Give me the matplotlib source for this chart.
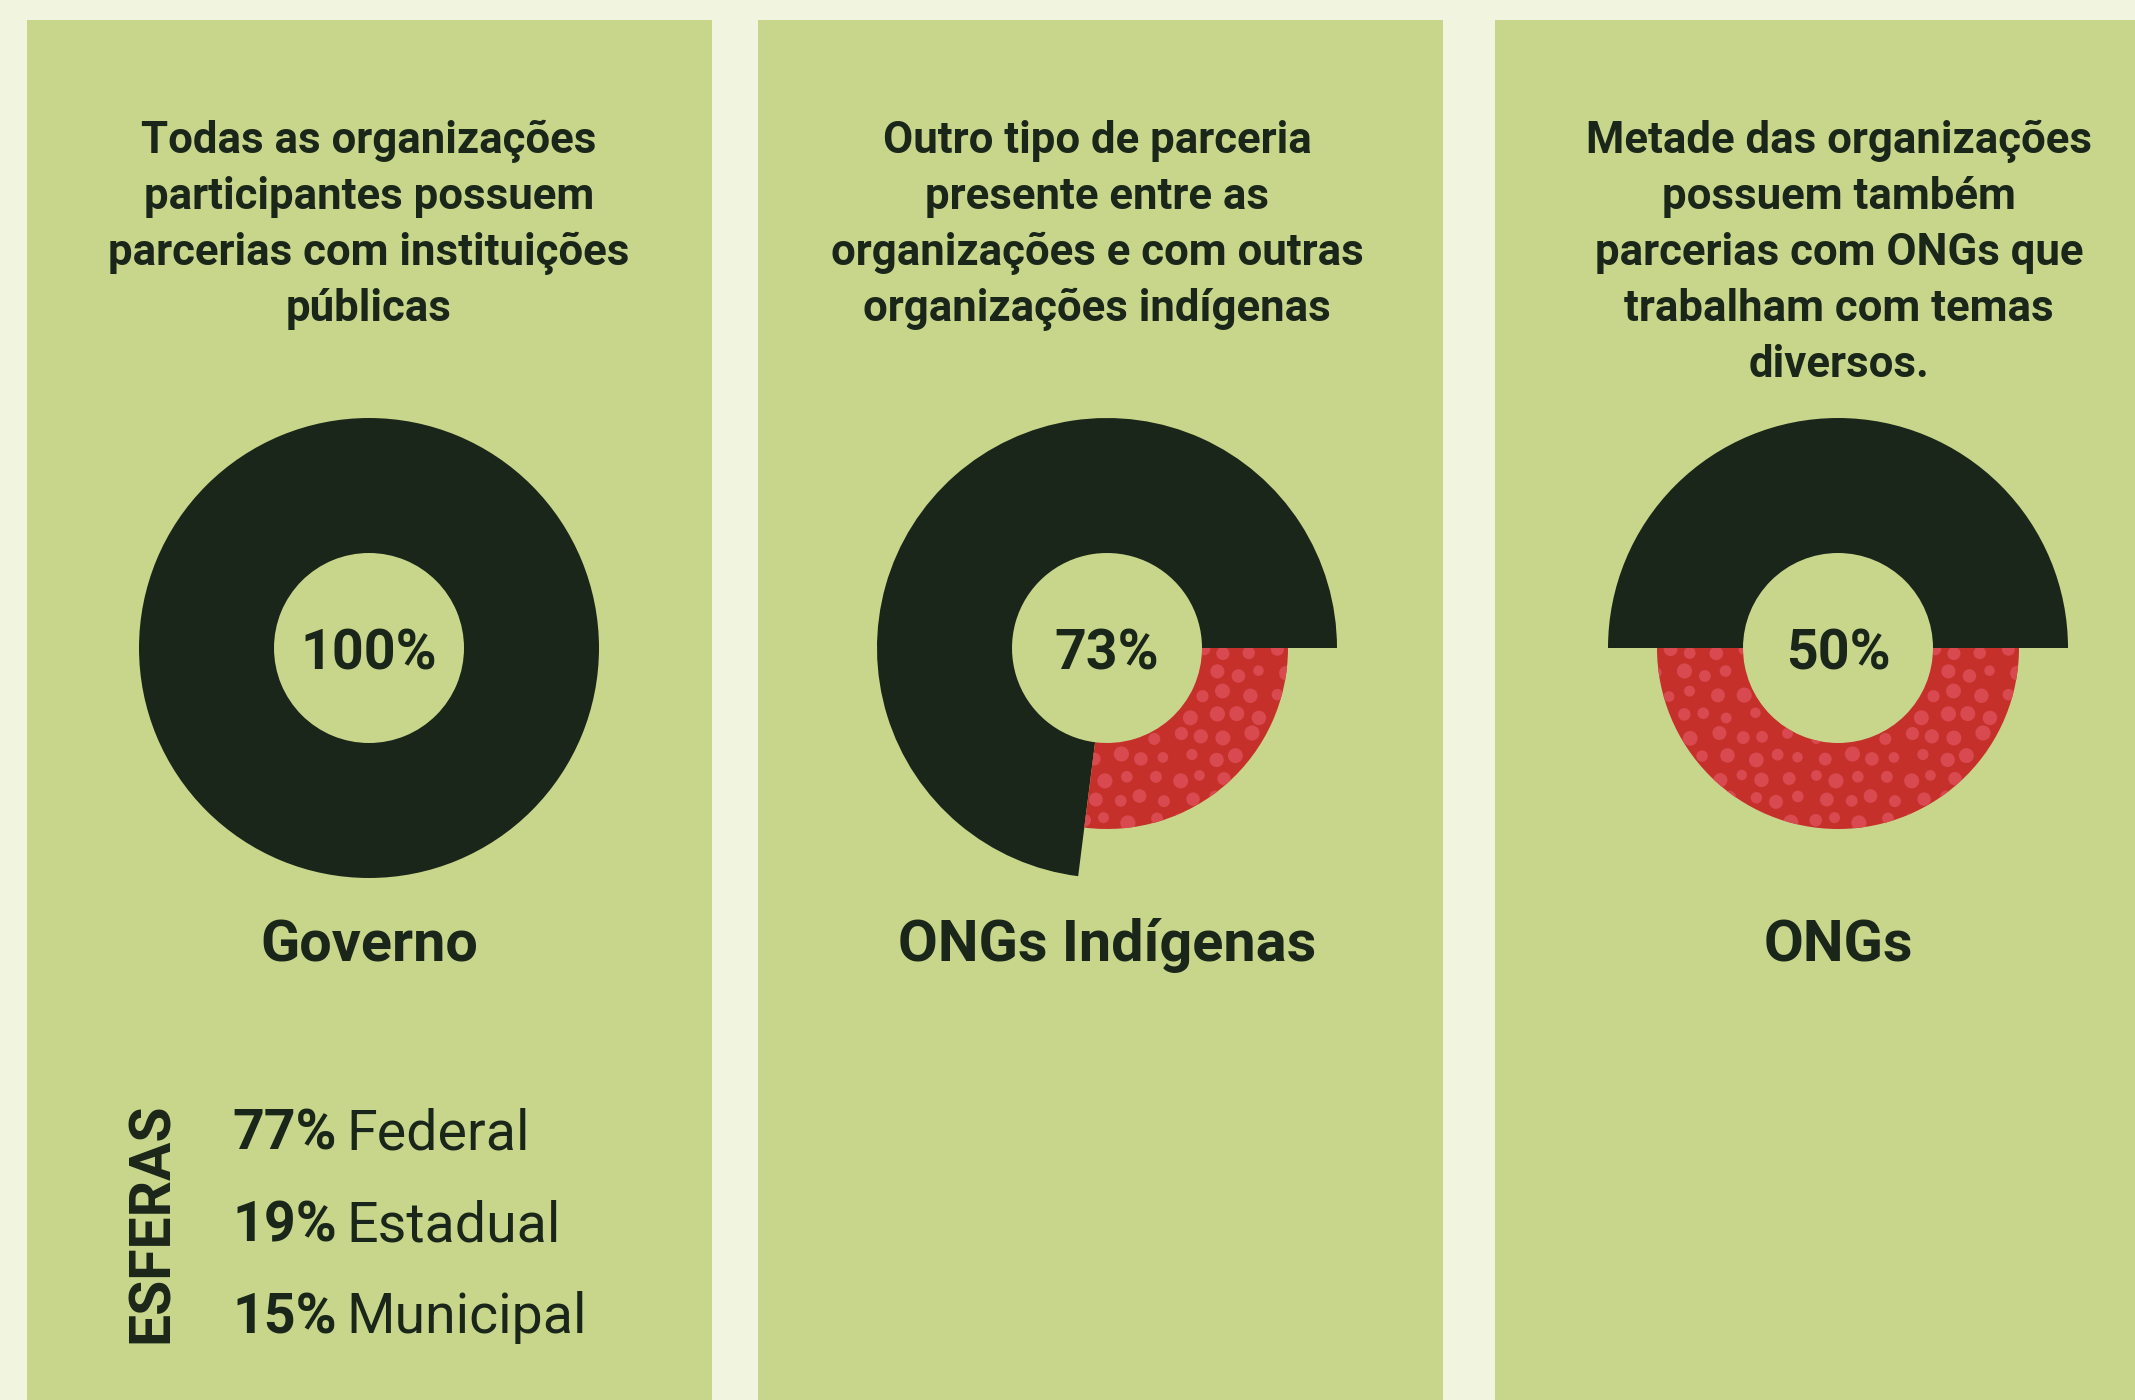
import numpy as np
import matplotlib
matplotlib.use("Agg")
import matplotlib.pyplot as plt
from matplotlib.patches import Rectangle, Circle
from matplotlib.collections import PatchCollection

W, H = 2135, 1400

BG = "#f1f5e0"
PANEL = "#c8d68b"
DARK = "#1b261a"
RED = "#c5302b"
DOT = "#d84a50"
FONT = "Roboto"

# data
categories = ["Governo", "ONGs Indígenas", "ONGs"]
shares = [100, 73, 50]
titles = [
    ["Todas as organizações", "participantes possuem",
     "parcerias com instituições", "públicas"],
    ["Outro tipo de parceria", "presente entre as",
     "organizações e com outras", "organizações indígenas"],
    ["Metade das organizações", "possuem também",
     "parcerias com ONGs que", "trabalham com temas", "diversos."],
]
esferas = ["Federal", "Estadual", "Municipal"]
esferas_pct = [77, 19, 15]

# layout (pixels from the top-left corner)
panel_left = [27, 758, 1495]
panel_width = 685
panel_top = 20
donut_x = [369, 1107, 1838]
title_x = [369, 1097, 1839]
donut_y = 648
r_outer, r_red, r_inner = 230, 181, 95


def fy(y):
    # flip a top-down pixel row into axes data coordinates
    return H - y


def dot_texture(ax, wedge, cx, cy, r):
    circles = []
    step_x, step_y = 24, 21
    for j, y in enumerate(np.arange(cy - r - 12, cy + r + 12, step_y)):
        shift = (j % 2) * step_x / 2
        for i, x in enumerate(np.arange(cx - r - 24, cx + r + 24, step_x)):
            px = x + shift + 3.5 * np.sin(1.7 * i + 2.9 * j)
            py = y + 3.0 * np.cos(2.3 * i + 1.1 * j)
            rad = 6.4 + 1.2 * np.sin(0.9 * i * j + 1.3 * i + 0.4 * j)
            circles.append(Circle((px, py), rad))
    coll = PatchCollection(circles, facecolor=DOT, edgecolor="none", zorder=2)
    coll.set_clip_path(wedge)
    ax.add_collection(coll)


fig = plt.figure(figsize=(W / 100, H / 100), dpi=100)
fig.patch.set_facecolor(BG)
ax = fig.add_axes([0, 0, 1, 1])

for k, cat in enumerate(categories):
    ax.add_patch(Rectangle((panel_left[k], 0), panel_width, fy(panel_top),
                           facecolor=PANEL, edgecolor="none", zorder=0))

    cx, cy = donut_x[k], fy(donut_y)
    wedges, _ = ax.pie([shares[k], 100 - shares[k]], colors=[DARK, RED],
                       startangle=0, counterclock=True, center=(cx, cy),
                       radius=r_outer,
                       wedgeprops=dict(width=r_outer - r_inner, linewidth=0))
    red = wedges[1]
    red.set_radius(r_red)
    red.set_width(r_red - r_inner)
    if shares[k] < 100:
        dot_texture(ax, red, cx, cy, r_red)

    ax.text(cx, fy(669), f"{shares[k]}%", ha="center", va="baseline",
            fontsize=40, fontweight="bold", family=FONT, color=DARK, zorder=3)
    ax.text(donut_x[k], fy(961), cat, ha="center", va="baseline",
            fontsize=41.5, fontweight="bold", family=FONT, color=DARK, zorder=3)

    for i, line in enumerate(titles[k]):
        ax.text(title_x[k], fy(153 + 56 * i), line, ha="center", va="baseline",
                fontsize=31.5, fontweight="bold", family=FONT, color=DARK,
                zorder=3)

# government spheres breakdown
ax.text(152, fy(1223), "ESFERAS", rotation=90, ha="center", va="center",
        fontsize=41, fontweight="bold", family=FONT, color=DARK, zorder=3)
for i, (name, pct) in enumerate(zip(esferas, esferas_pct)):
    base = fy(1149 + 92 * i)
    ax.text(232, base, f"{pct}%", ha="left", va="baseline", fontsize=40,
            fontweight="bold", family=FONT, color=DARK, zorder=3)
    ax.text(346, base, name, ha="left", va="baseline", fontsize=40,
            fontweight="normal", family=FONT, color=DARK, zorder=3)

ax.set_xlim(0, W)
ax.set_ylim(0, H)
ax.set_aspect("equal")
ax.axis("off")

fig.savefig("out.png", dpi=100, facecolor=BG)
